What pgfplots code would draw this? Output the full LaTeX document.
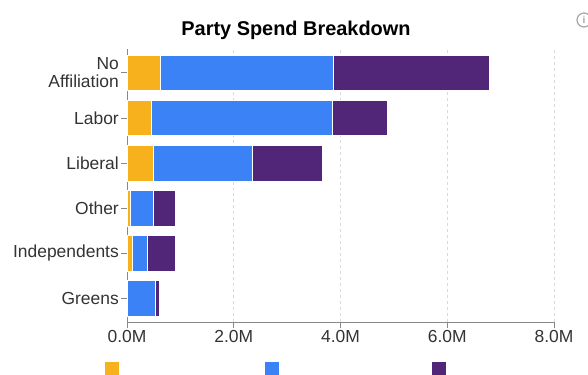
\documentclass[border=0pt]{standalone}
\usepackage{pgfplots}
\pgfplotsset{compat=1.18}
\usepackage{fontspec}
\setmainfont{Liberation Sans}
\definecolor{cOr}{HTML}{F6B11C}
\definecolor{cBl}{HTML}{3B82F6}
\definecolor{cPu}{HTML}{512577}
\definecolor{axgray}{HTML}{888888}
\definecolor{txt}{HTML}{333333}
\begin{document}
\begin{tikzpicture}
\begin{axis}[
  at={(127bp,53bp)}, anchor=south west,
  scale only axis, width=427bp, height=273bp,
  xbar stacked, bar width=0.787,
  xmin=0, xmax=8, ymin=-0.525, ymax=5.53,
  axis x line=bottom, axis y line=left,
  axis line style={-, axgray, line width=0.9bp},
  tick align=outside, major tick length=6bp,
  tick style={axgray, line width=0.9bp},
  xtick={0,2,4,6,8},
  xticklabels={0.0M,2.0M,4.0M,6.0M,8.0M},
  ytick={0,1,2,3,4,5},
  yticklabels={Greens,Independents,Other,Liberal,Labor,{No\\Affiliation}},
  xmajorgrids, grid style={dashed, gray!30, line width=0.6bp},
  ticklabel style={font=\fontsize{17.5}{18}\selectfont, text=txt},
  yticklabel style={align=right, inner sep=2bp},
  xticklabel style={inner sep=2bp},
  every axis plot/.append style={draw=white, line width=0.5bp},
  legend columns=3,
  legend style={draw=none, fill=none, inner sep=0pt, nodes={inner sep=0pt},
    at={(-0.0515,-0.1454)}, anchor=north west,
    /tikz/column 2/.style={column sep=145.2bp},
    /tikz/column 4/.style={column sep=151.8bp}},
  legend image code/.code={\fill[#1, draw=none] (0bp,-7bp) rectangle (14bp,7bp);},
]
\addplot[fill=cOr] coordinates {(0.012,0) (0.093,1) (0.056,2) (0.49,3) (0.46,4) (0.63,5)};
\addlegendentry{\mbox{}}
\addplot[fill=cBl] coordinates {(0.508,0) (0.287,1) (0.434,2) (1.85,3) (3.38,4) (3.24,5)};
\addlegendentry{\mbox{}}
\addplot[fill=cPu] coordinates {(0.08,0) (0.52,1) (0.42,2) (1.32,3) (1.04,4) (2.91,5)};
\addlegendentry{\mbox{}}
\end{axis}
\node[anchor=base, font=\fontsize{20}{24}\selectfont\bfseries, text=black] at (296bp,339.3bp) {Party Spend Breakdown};
\draw[gray!70, line width=1.2bp] (584bp,355bp) circle (7bp);
\node[text=gray!70, font=\fontsize{10}{12}\selectfont\bfseries] at (584bp,355bp) {i};
\pgfresetboundingbox
\path[use as bounding box] (0,0) rectangle (588bp,375bp);
\end{tikzpicture}
\end{document}
